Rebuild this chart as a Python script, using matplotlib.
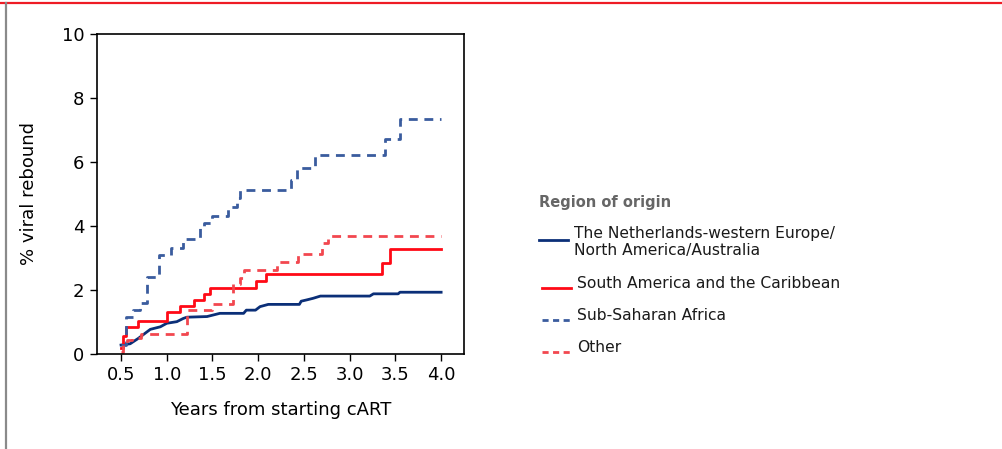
import matplotlib.pyplot as plt
from matplotlib.lines import Line2D

# Cumulative % viral rebound by region of origin
nl_years = [0.50, 0.55, 0.60, 0.69, 0.82, 0.93, 1.00, 1.11, 1.18, 1.22, 1.44, 1.58,
            1.84, 1.87, 1.97, 2.02, 2.11, 2.45, 2.47, 2.53, 2.60, 2.68, 3.22, 3.26,
            3.53, 3.55, 4.00]
nl_pct = [0.28, 0.30, 0.32, 0.49, 0.77, 0.85, 0.96, 1.01, 1.11, 1.15, 1.17, 1.27,
          1.27, 1.37, 1.37, 1.48, 1.55, 1.55, 1.65, 1.69, 1.74, 1.81, 1.81, 1.88,
          1.88, 1.93, 1.93]

sa_years = [0.50, 0.52, 0.555, 0.69, 1.00, 1.15, 1.30, 1.41, 1.47, 1.98, 2.08, 3.35, 3.44, 4.00]
sa_pct = [0.20, 0.55, 0.85, 1.04, 1.32, 1.50, 1.68, 1.88, 2.07, 2.28, 2.49, 2.85, 3.28, 3.28]

ssa_years = [0.50, 0.55, 0.63, 0.71, 0.78, 0.92, 1.05, 1.18, 1.36, 1.41, 1.50, 1.67,
             1.77, 1.80, 2.36, 2.42, 2.62, 3.39, 3.55, 4.00]
ssa_pct = [0.28, 1.17, 1.37, 1.58, 2.42, 3.09, 3.30, 3.58, 3.98, 4.10, 4.32, 4.60,
           4.86, 5.12, 5.45, 5.80, 6.22, 6.72, 7.34, 7.34]

other_years = [0.50, 0.52, 0.56, 0.62, 0.72, 1.22, 1.50, 1.72, 1.80, 1.84, 2.20, 2.43,
               2.70, 2.76, 4.00]
other_pct = [0.05, 0.30, 0.45, 0.50, 0.62, 1.37, 1.56, 2.20, 2.36, 2.63, 2.88, 3.13,
             3.46, 3.70, 3.70]

x_ticks = [0.5, 1.0, 1.5, 2.0, 2.5, 3.0, 3.5, 4.0]
y_ticks = [0, 2, 4, 6, 8, 10]

labels = ["The Netherlands-western Europe/\nNorth America/Australia",
          "South America and the Caribbean",
          "Sub-Saharan Africa",
          "Other"]

NAVY = '#0b2f78'
RED = '#ff0a16'
BLUE_D = '#3a5c9e'
RED_D = '#f2474f'
DASH = (0, (3.2, 2.4))

plt.rcParams['font.family'] = 'DejaVu Sans'

fig = plt.figure(figsize=(10.03, 4.49), dpi=100)
ax = fig.add_axes([0.0967, 0.2116, 0.3659, 0.7127])

ax.plot(nl_years, nl_pct, color=NAVY, lw=2.0)
ax.step(sa_years, sa_pct, where='post', color=RED, lw=2.0)
ax.step(ssa_years, ssa_pct, where='post', color=BLUE_D, lw=2.0, linestyle=DASH)
ax.step(other_years, other_pct, where='post', color=RED_D, lw=2.0, linestyle=DASH)

ax.set_xlim(0.237, 4.25)
ax.set_ylim(0, 10)
ax.set_xticks(x_ticks)
ax.set_xticklabels([f"{t:.1f}" for t in x_ticks])
ax.set_yticks(y_ticks)
ax.tick_params(direction='out', length=5, width=1, labelsize=13, pad=4)
for s in ax.spines.values():
    s.set_linewidth(1.2)
ax.set_xlabel('Years from starting cART', fontsize=13, labelpad=12)
ax.set_ylabel('% viral rebound', fontsize=13, labelpad=17)

# Legend, drawn by hand to follow the uneven spacing of the original
W, H = 1003, 449


def fx(px):
    return px / W


def fy(py):
    return 1 - py / H


fig.text(fx(539), fy(203), 'Region of origin', fontsize=10.5, fontweight='bold',
         color='#666666', va='center', ha='left')
entries = [
    (labels[0], NAVY, '-', 240, 574, 242),
    (labels[1], RED, '-', 288, 577, 283),
    (labels[2], BLUE_D, (0, (2.2, 1.6)), 320, 577, 315),
    (labels[3], RED_D, (0, (2.2, 1.6)), 352, 577, 347),
]
for text, col, ls, ly, tx, ty in entries:
    x0 = 539 if col in (NAVY,) else 542
    fig.add_artist(Line2D([fx(x0), fx(x0 + 29)], [fy(ly), fy(ly)], color=col, lw=2.0,
                          linestyle=ls, transform=fig.transFigure))
    fig.text(fx(tx), fy(ty), text, fontsize=11.2, color='#1a1a1a', va='center', ha='left',
             linespacing=1.15)

# frame lines of the source page
fig.add_artist(Line2D([0, 1], [fy(3), fy(3)], color='#ee1c25', lw=1.6,
                      transform=fig.transFigure))
fig.add_artist(Line2D([fx(6), fx(6)], [fy(3), 0], color='#8a8a8a', lw=1.6,
                      transform=fig.transFigure))

fig.savefig('out.png', dpi=100)
